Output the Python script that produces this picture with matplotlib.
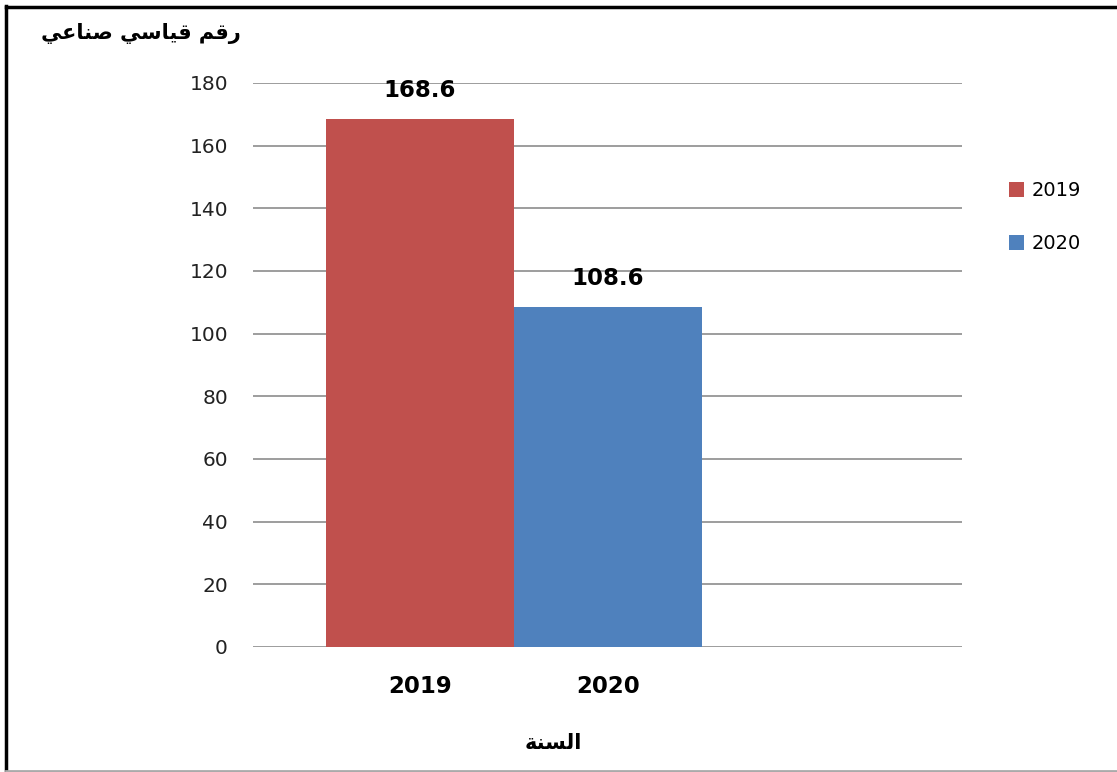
import matplotlib
matplotlib.use("Agg")
import matplotlib.pyplot as plt
from matplotlib.patches import Patch
from matplotlib.lines import Line2D

# ---- data ----
categories = ["2019", "2020"]
values = [168.6, 108.6]
series_labels = ["2019", "2020"]
colors = ["#C0504D", "#4F81BD"]
yticks = [0, 20, 40, 60, 80, 100, 120, 140, 160, 180]
y_title = "رقم قياسي صناعي"
x_title = "السنة"

# ---- minimal Arabic shaping (presentation forms, visual order) ----
FORMS = {  # iso, fin, ini, med
    "ا": (0xFE8D, 0xFE8E, None, None),
    "ر": (0xFEAD, 0xFEAE, None, None),
    "ة": (0xFE93, 0xFE94, None, None),
    "ق": (0xFED5, 0xFED6, 0xFED7, 0xFED8),
    "م": (0xFEE1, 0xFEE2, 0xFEE3, 0xFEE4),
    "ي": (0xFEF1, 0xFEF2, 0xFEF3, 0xFEF4),
    "س": (0xFEB1, 0xFEB2, 0xFEB3, 0xFEB4),
    "ص": (0xFEB9, 0xFEBA, 0xFEBB, 0xFEBC),
    "ن": (0xFEE5, 0xFEE6, 0xFEE7, 0xFEE8),
    "ع": (0xFEC9, 0xFECA, 0xFECB, 0xFECC),
    "ل": (0xFEDD, 0xFEDE, 0xFEDF, 0xFEE0),
}


def shape(text):
    out = []
    n = len(text)
    for i, ch in enumerate(text):
        if ch not in FORMS:
            out.append(ch)
            continue
        f = FORMS[ch]
        prev = text[i - 1] if i > 0 else None
        nxt = text[i + 1] if i < n - 1 else None
        jp = prev in FORMS and FORMS[prev][2] is not None
        jn = nxt in FORMS and f[2] is not None
        if jp and jn:
            cp = f[3]
        elif jp:
            cp = f[1]
        elif jn:
            cp = f[2]
        else:
            cp = f[0]
        out.append(chr(cp))
    return "".join(reversed(out))


fig = plt.figure(figsize=(11.17, 7.72), dpi=100)
fig.patch.set_facecolor("white")

W, H = 1117, 772
ax = fig.add_axes([253 / W, 1 - 647 / H, (962 - 253) / W, (647 - 83) / H])

x = list(range(len(categories)))
bars = ax.bar(x, values, width=1.0, color=colors, zorder=3)
ax.set_xlim(-0.888, 2.883)
ax.set_ylim(0, 180)
ax.set_yticks(yticks)
ax.set_yticklabels([str(t) for t in yticks], fontsize=14.5, family="DejaVu Sans", color="#222222")
ax.set_xticks(x)
ax.set_xticklabels(categories, fontsize=16.5, fontweight="bold", family="DejaVu Sans")
ax.tick_params(axis="y", length=0, pad=18)
ax.tick_params(axis="x", length=0, pad=20)
ax.yaxis.grid(True, color="#8c8c8c", linewidth=1.2, zorder=0)
for s in ax.spines.values():
    s.set_visible(False)

for xi, v in zip(x, values):
    ax.text(xi, v + 9, f"{v:.1f}", ha="center", va="center", fontsize=16.5,
            fontweight="bold", family="DejaVu Sans", zorder=4)

# axis titles (Arabic)
fig.text(141 / W, 1 - 33 / H, shape(y_title), ha="center", va="center",
         fontsize=15, fontweight="bold", family=["DejaVu Sans"])
fig.text(553 / W, 1 - 743 / H, shape(x_title), ha="center", va="center",
         fontsize=15, fontweight="bold", family=["DejaVu Sans"])

# legend
handles = [Patch(facecolor=c) for c in colors]
leg = fig.legend(handles, series_labels, loc="center left",
                 bbox_to_anchor=(991 / W, 1 - 217 / H), frameon=False,
                 prop={"family": "DejaVu Sans", "size": 14},
                 handlelength=0.8, handleheight=0.8, handletextpad=0.4,
                 labelspacing=1.75)

# outer frame
fig.add_artist(Line2D([6 / W, 6 / W], [0, 1 - 6 / H], color="black", lw=2.5,
                      transform=fig.transFigure))
fig.add_artist(Line2D([6 / W, 1], [1 - 7 / H, 1 - 7 / H], color="black", lw=2.5,
                      transform=fig.transFigure))
fig.add_artist(Line2D([6 / W, 1], [1.5 / H, 1.5 / H], color="#aaaaaa", lw=2,
                      transform=fig.transFigure))

fig.savefig("out.png", dpi=100, facecolor="white")
